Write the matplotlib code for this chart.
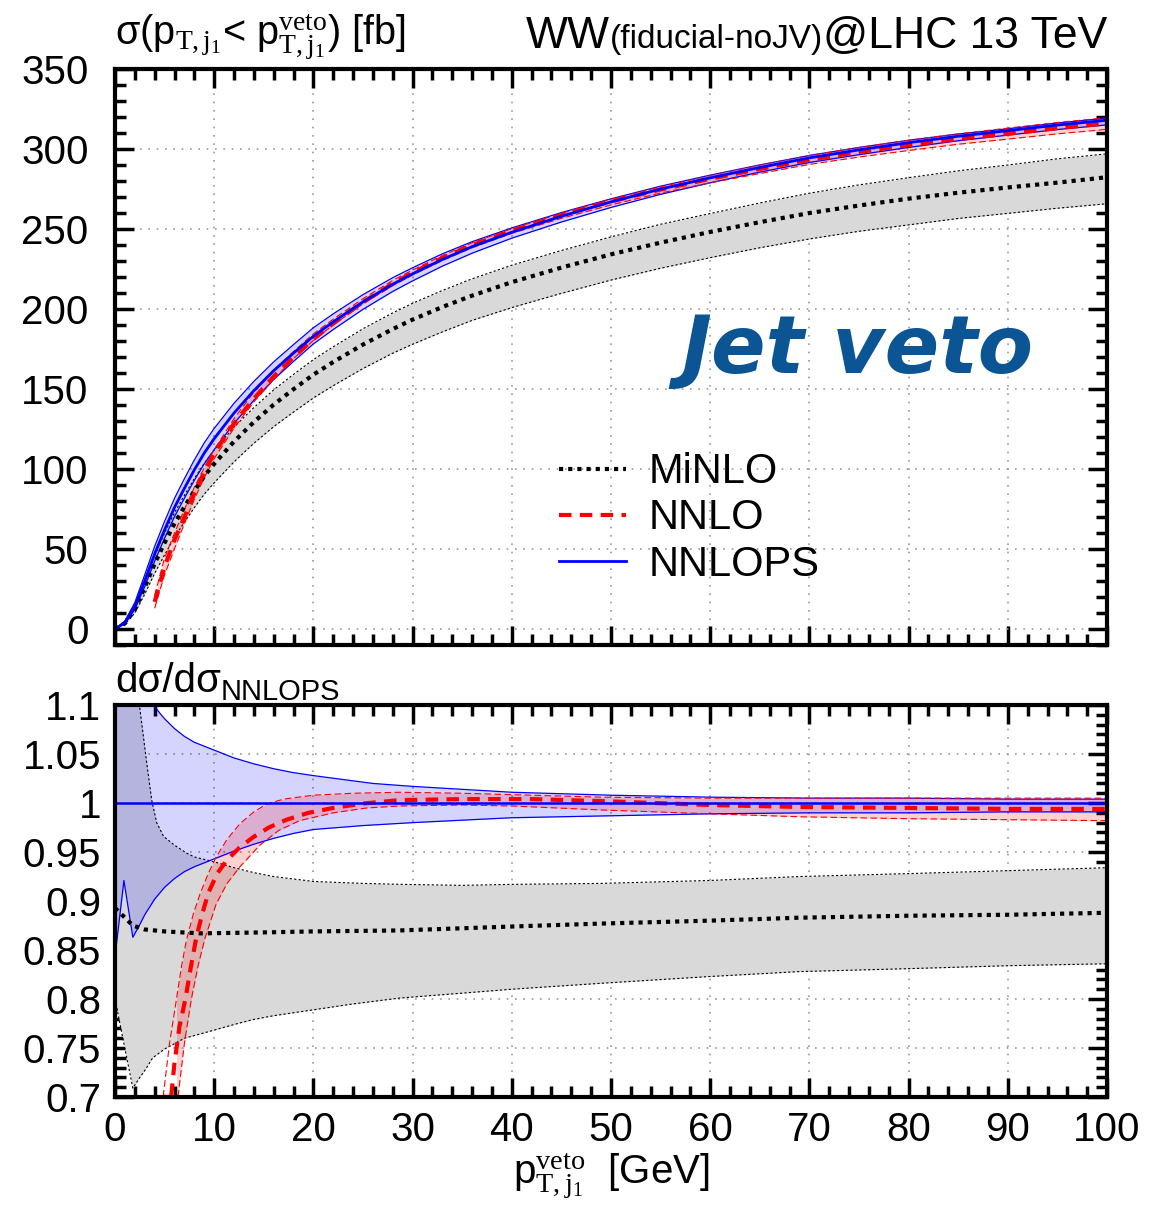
import numpy as np
import matplotlib
matplotlib.use('Agg')
import matplotlib.pyplot as plt
from matplotlib.ticker import MultipleLocator

plt.rcParams['font.family'] = ['Liberation Sans', 'DejaVu Sans']
plt.rcParams['mathtext.fontset'] = 'custom'
plt.rcParams['mathtext.rm'] = 'Liberation Serif'
plt.rcParams['mathtext.it'] = 'Liberation Serif:italic'

# ---------------- upper panel: sigma(pT,j1 < veto) [fb] ----------------
x_top = [0, 1, 2, 3, 4, 5, 6, 7, 8, 9, 10, 12, 14, 16, 18, 20, 22, 25, 28, 30, 33, 36,
         40, 45, 50, 55, 60, 65, 70, 75, 80, 85, 90, 95, 100]

minlo_c = [0, 3.5, 12.2, 26.1, 40.9, 53.9, 66.0, 76.4, 86.4, 95.5, 103.3, 117.2, 129.4, 140.3,
           149.9, 159.0, 166.9, 177.8, 187.5, 193.4, 201.3, 208.4, 216.8, 225.9, 234.2, 241.5,
           248.2, 254.3, 260.0, 264.7, 269.0, 272.7, 276.0, 279.0, 282.4]
minlo_hi = [0, 5, 15.8, 31.5, 46, 60, 72.7, 83.6, 94.1, 103.6, 111.9, 126.2, 138.4, 149.5, 159.2,
            168.4, 176.4, 187.7, 197.6, 203.6, 211.6, 218.9, 227.4, 236.6, 245.1, 253, 259.7,
            266.3, 272.4, 277.6, 282.1, 286.4, 290, 293.9, 297]
minlo_lo = [0, 3.0, 10.0, 21.8, 34.8, 46.4, 57.4, 66.8, 75.9, 84.3, 91.4, 104.5, 116.1, 126.5,
            135.6, 144.4, 152.1, 162.8, 172.4, 178.0, 185.7, 192.9, 200.9, 209.8, 218.1, 225.5,
            232.1, 238.3, 243.8, 248.6, 252.6, 256.6, 259.8, 263.0, 265.8]

nnlops_c = [0, 4, 14, 30, 47, 62, 76, 88, 99.5, 110, 119, 135, 149, 161.5, 172.5, 183, 192, 204.5,
            215.5, 222, 231, 239, 248, 258, 267, 275, 282, 288.5, 294.5, 299.5, 304, 308, 311.5,
            315, 318]
nnlops_hi = [0, 5, 16.5, 33.9, 51.7, 67.3, 81.7, 94, 105.7, 116.4, 125.4, 141.1, 154.8, 167, 177.8,
             188.3, 197, 209, 219.6, 225.8, 234.5, 242.1, 250.7, 260.3, 268.9, 276.8, 283.7, 290.1,
             296, 301, 305.5, 309.4, 312.7, 316.3, 319.3]
nnlops_lo = [0, 3.6, 12.1, 26.6, 42.4, 56.7, 70.3, 81.8, 93.0, 103.3, 112.1, 128.5, 143, 156, 167.3,
             178.2, 187.2, 199.8, 211, 217.6, 226.8, 234.9, 244.3, 254.4, 263.5, 271.7, 278.9,
             285.6, 291.6, 296.5, 301, 305.2, 308.7, 312.2, 315.1]

x_nnlo = [4, 5, 6, 7, 8, 9, 10, 12, 14, 16, 18, 20, 22, 25, 28, 30, 33, 36, 40, 45, 50, 55, 60,
          65, 70, 75, 80, 85, 90, 95, 100]
nnlo_c = [17, 39, 55.8, 70, 84.9, 98.3, 110, 128.5, 144.0, 157.9, 169.9, 181.2, 191, 204.3, 215.9,
          222.7, 231.9, 240, 249, 258.8, 267.3, 274.7, 281.4, 287.6, 293.3, 298.2, 302.5, 306.3,
          309.6, 313.1, 316.1]
nnlo_hi = [21, 44.6, 60, 74.8, 88.6, 100.9, 112.1, 131.6, 148, 161.8, 173.5, 184.5, 193.7, 206.5,
           217.9, 224.4, 233.5, 241.4, 250.2, 259.8, 268.6, 276.4, 283.4, 289.9, 296, 301, 305.5,
           309.5, 313.1, 316.6, 319.6]
nnlo_lo = [13, 34, 50.2, 66, 81.1, 94.6, 106.5, 125.6, 142, 156, 169, 180.4, 190.1, 203.3, 214.6,
           221.3, 230.3, 238.3, 247.3, 256.7, 265.1, 272.5, 278.9, 284.7, 290.4, 295, 299.1, 303,
           306.2, 309.5, 312.3]

# ---------------- lower panel: ratio to NNLOPS ----------------
xr_nnlops_hi = [0, 1, 2, 3, 3.9, 4.5, 5, 6, 7, 8, 9, 10, 12, 14, 16, 18, 20, 23, 26, 30, 35, 40,
                50, 60, 70, 80, 90, 100]
r_nnlops_hi = [1.30, 1.25, 1.18, 1.13, 1.10, 1.092, 1.086, 1.076, 1.068, 1.062, 1.058, 1.054, 1.046,
               1.040, 1.035, 1.031, 1.028, 1.024, 1.020, 1.017, 1.014, 1.011, 1.008, 1.006, 1.005,
               1.005, 1.004, 1.004]
xr_nnlops_lo = [0, 0.9, 1.8, 2.5, 3, 4, 5, 6, 7, 8, 9, 10, 12, 14, 16, 18, 20, 25, 30, 40, 50, 60,
                70, 80, 90, 100]
r_nnlops_lo = [0.843, 0.921, 0.863, 0.876, 0.886, 0.902, 0.914, 0.923, 0.930, 0.935, 0.939, 0.943,
               0.951, 0.958, 0.964, 0.969, 0.973, 0.977, 0.980, 0.985, 0.987, 0.989, 0.990, 0.990,
               0.991, 0.991]

xr_minlo_hi = [0, 1, 2, 2.5, 3.2, 3.7, 4.2, 4.9, 6, 7.2, 8, 10, 12, 14, 16, 20, 25, 29, 35, 40, 49,
               60, 69, 80, 90, 100]
r_minlo_hi = [1.40, 1.25, 1.13, 1.097, 1.041, 1.003, 0.980, 0.966, 0.957, 0.949, 0.945, 0.940, 0.934,
              0.929, 0.925, 0.920, 0.918, 0.917, 0.916, 0.917, 0.918, 0.921, 0.925, 0.928, 0.931,
              0.934]
xr_minlo_c = [0, 1, 1.8, 3, 5, 8.6, 15, 20, 28.7, 40, 49, 60, 69, 80, 90, 100]
r_minlo_c = [0.893, 0.883, 0.875, 0.871, 0.869, 0.867, 0.868, 0.869, 0.870, 0.874, 0.877, 0.880,
             0.883, 0.885, 0.886, 0.888]
xr_minlo_lo = [0, 1.8, 2.5, 3, 3.8, 5, 7, 9.9, 12, 13.9, 16, 20, 24, 28.7, 35, 40, 48.9, 60, 69, 80,
               90, 100]
r_minlo_lo = [0.80, 0.709, 0.72, 0.727, 0.740, 0.749, 0.760, 0.768, 0.774, 0.779, 0.783, 0.789,
              0.795, 0.801, 0.806, 0.810, 0.816, 0.823, 0.828, 0.831, 0.834, 0.836]

xr_nnlo_c = [5.5, 5.7, 6, 6.5, 7.1, 7.6, 8.2, 8.8, 9.4, 10.3, 11.3, 12.5, 13.9, 15.5, 17.3, 19.5,
             22, 25, 28.7, 35, 42, 49, 60, 69, 80, 90, 100]
r_nnlo_c = [0.68, 0.704, 0.735, 0.772, 0.80, 0.83, 0.863, 0.887, 0.908, 0.928, 0.942, 0.954, 0.965,
            0.975, 0.983, 0.990, 0.995, 0.9995, 1.003, 1.004, 1.004, 1.002, 0.998, 0.996, 0.995,
            0.994, 0.994]
xr_nnlo_hi = [4.7, 4.9, 5.5, 6.2, 6.7, 7.2, 7.9, 8.6, 9.4, 10.2, 11.3, 12.6, 14, 15.3, 17, 20, 24,
              28.7, 35, 49, 60, 80, 100]
r_nnlo_hi = [0.68, 0.704, 0.755, 0.80, 0.833, 0.86, 0.887, 0.908, 0.928, 0.945, 0.963, 0.979, 0.991,
             0.999, 1.004, 1.008, 1.010, 1.011, 1.010, 1.006, 1.005, 1.005, 1.005]
xr_nnlo_lo = [6.2, 6.4, 7, 7.7, 8.4, 9.1, 10.2, 11.3, 12.6, 14.6, 16.5, 18.6, 22, 25.4, 28.7, 35,
              40, 48.9, 60, 69, 80, 90, 100]
r_nnlo_lo = [0.68, 0.704, 0.755, 0.80, 0.835, 0.863, 0.897, 0.918, 0.935, 0.957, 0.972, 0.982,
             0.990, 0.995, 0.997, 0.998, 0.997, 0.993, 0.989, 0.986, 0.984, 0.983, 0.982]

gray_fill = '#d9d9d9'
blue_fill = (0, 0, 1, 0.17)
red_fill = (1, 0, 0, 0.18)


def band_grid(xa, ya, xb, yb):
    # common grid for fill_between of two edges read on different x points
    xs = np.unique(np.concatenate([xa, xb]))
    xs = xs[(xs >= max(xa[0], xb[0])) & (xs <= min(xa[-1], xb[-1]))]
    return xs, np.interp(xs, xa, ya), np.interp(xs, xb, yb)


def style_axes(ax):
    for s in ax.spines.values():
        s.set_linewidth(3)
    ax.tick_params(which='both', direction='in', top=True, right=True, width=2.5, labelsize=29)
    ax.tick_params(which='major', length=14)
    ax.tick_params(which='minor', length=8)
    ax.grid(True, which='major', color='#999999', linestyle=(0, (1, 4)), linewidth=1.2)
    ax.set_axisbelow(True)


fig = plt.figure(figsize=(11.51, 12.05), dpi=100)
ax1 = fig.add_axes([0.0999, 0.4647, 0.8619, 0.4780])
ax2 = fig.add_axes([0.0999, 0.0896, 0.8619, 0.3253])

# upper panel
ax1.fill_between(x_top, minlo_lo, minlo_hi, color=gray_fill, lw=0)
ax1.fill_between(x_top, nnlops_lo, nnlops_hi, color=blue_fill, lw=0)
ax1.fill_between(x_nnlo, nnlo_lo, nnlo_hi, color=red_fill, lw=0)
ax1.plot(x_top, minlo_hi, color='black', ls=(0, (2, 2)), lw=0.8)
ax1.plot(x_top, minlo_lo, color='black', ls=(0, (2, 2)), lw=0.8)
ax1.plot(x_top, nnlops_hi, color='blue', lw=0.9)
ax1.plot(x_top, nnlops_lo, color='blue', lw=0.9)
ax1.plot(x_nnlo, nnlo_hi, color='red', ls=(0, (6, 3)), lw=0.8)
ax1.plot(x_nnlo, nnlo_lo, color='red', ls=(0, (6, 3)), lw=0.8)
l_minlo, = ax1.plot(x_top, minlo_c, color='black', ls=(0, (1, 1.2)), lw=3, label='MiNLO')
l_nnlo, = ax1.plot(x_nnlo, nnlo_c, color='red', ls=(0, (3, 2)), lw=3, label='NNLO')
l_nnlops, = ax1.plot(x_top, nnlops_c, color='blue', lw=2, label='NNLOPS')

ax1.set_xlim(0, 100)
ax1.set_ylim(-10, 350)
ax1.xaxis.set_major_locator(MultipleLocator(10))
ax1.xaxis.set_minor_locator(MultipleLocator(2))
ax1.yaxis.set_major_locator(MultipleLocator(50))
ax1.yaxis.set_minor_locator(MultipleLocator(10))
style_axes(ax1)
ax1.tick_params(labelbottom=False)
ax1.tick_params(axis='y', pad=19)

leg = ax1.legend(handles=[l_minlo, l_nnlo, l_nnlops], loc='upper left',
                 bbox_to_anchor=(0.41, 0.40), frameon=False, fontsize=30,
                 handlelength=1.6, handletextpad=0.55, labelspacing=0.15)

ax1.text(0.748, 0.511, 'Jet veto', transform=ax1.transAxes, ha='center', va='center',
         fontsize=58, fontweight='bold', style='italic', color='#0b5595',
         family=['DejaVu Sans'])

ax1.text(0.0, 1.012, r'σ(p$_{\rm T,j_1}$< p$^{\rm veto}_{\rm T,j_1}$) [fb]',
         transform=ax1.transAxes, ha='left', va='bottom', fontsize=28.5)

# header: three pieces on one baseline, placed right to left
y_head = 1.036
t_lhc = ax1.text(1.0, y_head, '@LHC 13 TeV', transform=ax1.transAxes, ha='right',
                 va='baseline', fontsize=32)
t_fid = ax1.text(0.5, y_head, '(fiducial-noJV)', transform=ax1.transAxes, ha='right',
                 va='baseline', fontsize=24)
t_ww = ax1.text(0.4, y_head, 'WW', transform=ax1.transAxes, ha='right', va='baseline',
                fontsize=32)
fig.canvas.draw()
r = fig.canvas.get_renderer()
inv = ax1.transAxes.inverted()
t_fid.set_position((inv.transform((t_lhc.get_window_extent(r).x0, 0))[0], y_head))
fig.canvas.draw()
t_ww.set_position((inv.transform((t_fid.get_window_extent(r).x0, 0))[0], y_head))

# lower panel
xs, lo, hi = band_grid(xr_minlo_lo, r_minlo_lo, xr_minlo_hi, r_minlo_hi)
ax2.fill_between(xs, lo, hi, color=gray_fill, lw=0)
xs, lo, hi = band_grid(xr_nnlops_lo, r_nnlops_lo, xr_nnlops_hi, r_nnlops_hi)
ax2.fill_between(xs, lo, hi, color=blue_fill, lw=0)
xs, lo, hi = band_grid(xr_nnlo_lo, r_nnlo_lo, xr_nnlo_hi, r_nnlo_hi)
ax2.fill_between(xs, lo, hi, color=red_fill, lw=0)
# the NNLO band where only its upper edge is inside the frame
ax2.fill_betweenx(r_nnlo_hi[:2], [xr_nnlo_hi[0], xr_nnlo_hi[1]], [xr_nnlo_lo[0], xr_nnlo_lo[1]],
                  color=red_fill, lw=0)

ax2.plot(xr_minlo_hi, r_minlo_hi, color='black', ls=(0, (2, 2)), lw=0.8)
ax2.plot(xr_minlo_lo, r_minlo_lo, color='black', ls=(0, (2, 2)), lw=0.8)
ax2.plot(xr_nnlops_hi, r_nnlops_hi, color='blue', lw=0.9)
ax2.plot(xr_nnlops_lo, r_nnlops_lo, color='blue', lw=0.9)
ax2.plot(xr_nnlo_hi, r_nnlo_hi, color='red', ls=(0, (6, 3)), lw=0.8)
ax2.plot(xr_nnlo_lo, r_nnlo_lo, color='red', ls=(0, (6, 3)), lw=0.8)
ax2.plot(xr_minlo_c, r_minlo_c, color='black', ls=(0, (1, 1.2)), lw=3)
ax2.plot(xr_nnlo_c, r_nnlo_c, color='red', ls=(0, (3, 2)), lw=3)
ax2.plot([0, 100], [1, 1], color='blue', lw=1.8)

ax2.set_xlim(0, 100)
ax2.set_ylim(0.7, 1.1)
ax2.xaxis.set_major_locator(MultipleLocator(10))
ax2.xaxis.set_minor_locator(MultipleLocator(2))
ax2.yaxis.set_minor_locator(MultipleLocator(0.01))
ax2.set_yticks([0.7, 0.75, 0.8, 0.85, 0.9, 0.95, 1.0, 1.05, 1.1])
ax2.set_yticklabels(['0.7', '0.75', '0.8', '0.85', '0.9', '0.95', '1', '1.05', '1.1'])
style_axes(ax2)
ax2.tick_params(axis='x', pad=10)
ax2.tick_params(axis='y', pad=10)

t_ds = ax2.text(0.0, 1.033, 'dσ/dσ', transform=ax2.transAxes, ha='left', va='baseline',
                fontsize=29)
ax2.annotate('NNLOPS', xy=(1, 0), xycoords=t_ds, ha='left', va='baseline', fontsize=21)
ax2.set_xlabel(r'p$^{\rm veto}_{\rm T,j_1}$  [GeV]', fontsize=29, labelpad=2)

fig.savefig('out.png', dpi=100)
